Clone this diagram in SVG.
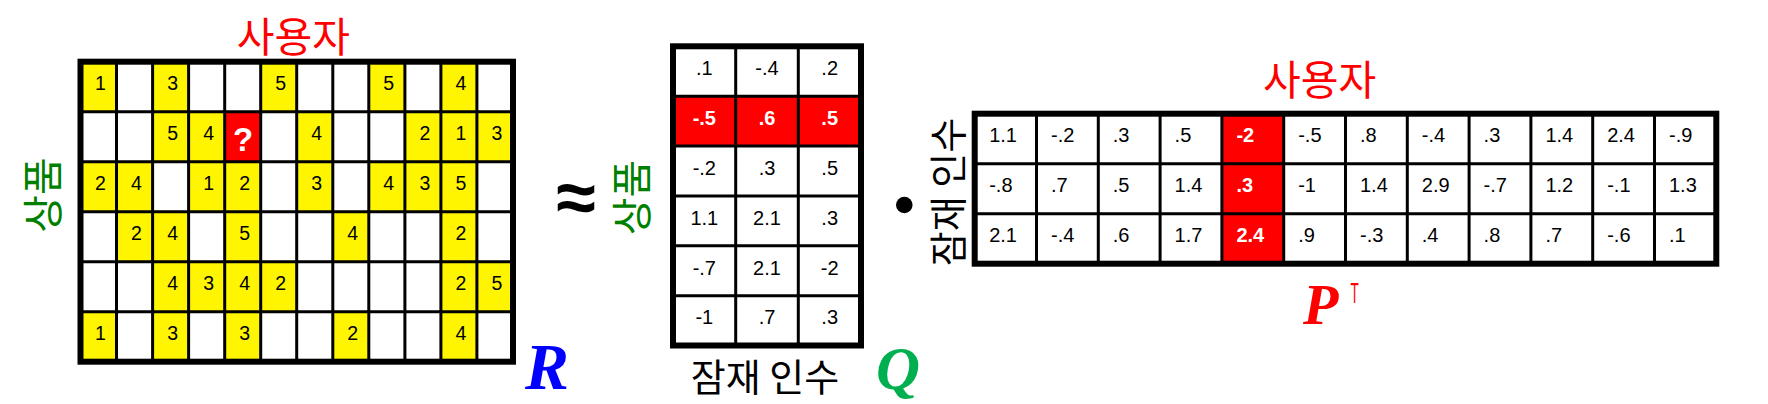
<svg xmlns="http://www.w3.org/2000/svg" width="1768" height="404" viewBox="0 0 1768 404">
<style>
.bg{fill:#ffffff}
.y{fill:#FFF500}
.r{fill:#FF0000}
.w{fill:#ffffff}
.outer{fill:none;stroke:#000;stroke-width:6}
.inner{stroke:#000;stroke-width:3}
.n{font-family:"Liberation Sans",Arial,sans-serif;font-size:19.5px;fill:#000;text-anchor:middle}
.nq{font-family:"Liberation Sans",Arial,sans-serif;font-size:20px;fill:#000;text-anchor:middle}
.np{font-family:"Liberation Sans",Arial,sans-serif;font-size:20px;fill:#000;text-anchor:start}
.bw{fill:#fff;font-weight:bold}
.kr{font-family:"Noto Sans CJK KR","Noto Sans",sans-serif}
.lbl-red{fill:#FF0000;font-size:41px;text-anchor:middle}
.lbl-green{fill:#008000;font-size:41px;text-anchor:middle}
.lbl-black{fill:#000;font-size:38px;text-anchor:middle}
.sym{font-family:"Liberation Serif","Times New Roman",serif;font-weight:bold;font-style:italic}
</style>
<rect class="bg" x="0" y="0" width="1768" height="404"/>

<g id="matrix-R">
  <g id="R-fills">
    <rect class="y" x="80.5" y="61.7" width="36" height="50"/>
    <rect class="y" x="152.6" y="61.7" width="36" height="50"/>
    <rect class="y" x="260.7" y="61.7" width="36" height="50"/>
    <rect class="y" x="368.8" y="61.7" width="36" height="50"/>
    <rect class="y" x="440.9" y="61.7" width="36" height="50"/>

    <rect class="y" x="152.6" y="111.7" width="72.1" height="50"/>
    <rect class="r" x="224.7" y="111.7" width="36" height="50"/>
    <rect class="y" x="296.7" y="111.7" width="36" height="50"/>
    <rect class="y" x="404.9" y="111.7" width="108.1" height="50"/>

    <rect class="y" x="80.5" y="161.7" width="72.1" height="50"/>
    <rect class="y" x="188.6" y="161.7" width="72.1" height="50"/>
    <rect class="y" x="296.7" y="161.7" width="36" height="50"/>
    <rect class="y" x="368.8" y="161.7" width="108.1" height="50"/>

    <rect class="y" x="116.5" y="211.7" width="72.1" height="50"/>
    <rect class="y" x="224.7" y="211.7" width="36" height="50"/>
    <rect class="y" x="332.8" y="211.7" width="36" height="50"/>
    <rect class="y" x="440.9" y="211.7" width="36" height="50"/>

    <rect class="y" x="152.6" y="261.7" width="144.1" height="50"/>
    <rect class="y" x="440.9" y="261.7" width="72.1" height="50"/>

    <rect class="y" x="80.5" y="311.7" width="36" height="50"/>
    <rect class="y" x="152.6" y="311.7" width="36" height="50"/>
    <rect class="y" x="224.7" y="311.7" width="36" height="50"/>
    <rect class="y" x="332.8" y="311.7" width="36" height="50"/>
    <rect class="y" x="440.9" y="311.7" width="36" height="50"/>
  </g>
  <path class="inner" d="M116.5 61.7V361.7M152.6 61.7V361.7M188.6 61.7V361.7M224.7 61.7V361.7M260.7 61.7V361.7M296.7 61.7V361.7M332.8 61.7V361.7M368.8 61.7V361.7M404.9 61.7V361.7M440.9 61.7V361.7M476.9 61.7V361.7M80.5 111.7H513M80.5 161.7H513M80.5 211.7H513M80.5 261.7H513M80.5 311.7H513"/>
  <rect class="outer" x="80.5" y="61.7" width="432.5" height="300"/>
  <g id="R-values">
    <text class="n" x="100.5" y="90">1</text><text class="n" x="172.6" y="90">3</text><text class="n" x="280.7" y="90">5</text><text class="n" x="388.8" y="90">5</text><text class="n" x="460.9" y="90">4</text>
    <text class="n" x="172.6" y="140">5</text><text class="n" x="208.6" y="140">4</text><text class="n" x="316.8" y="140">4</text><text class="n" x="424.9" y="140">2</text><text class="n" x="460.9" y="140">1</text><text class="n" x="497" y="140">3</text>
    <text class="n" x="100.5" y="190">2</text><text class="n" x="136.5" y="190">4</text><text class="n" x="208.6" y="190">1</text><text class="n" x="244.7" y="190">2</text><text class="n" x="316.8" y="190">3</text><text class="n" x="388.8" y="190">4</text><text class="n" x="424.9" y="190">3</text><text class="n" x="460.9" y="190">5</text>
    <text class="n" x="136.5" y="240">2</text><text class="n" x="172.6" y="240">4</text><text class="n" x="244.7" y="240">5</text><text class="n" x="352.8" y="240">4</text><text class="n" x="460.9" y="240">2</text>
    <text class="n" x="172.6" y="290">4</text><text class="n" x="208.6" y="290">3</text><text class="n" x="244.7" y="290">4</text><text class="n" x="280.7" y="290">2</text><text class="n" x="460.9" y="290">2</text><text class="n" x="497" y="290">5</text>
    <text class="n" x="100.5" y="340">1</text><text class="n" x="172.6" y="340">3</text><text class="n" x="244.7" y="340">3</text><text class="n" x="352.8" y="340">2</text><text class="n" x="460.9" y="340">4</text>
    <text class="n bw" x="243" y="150.5" style="font-size:33px">?</text>
  </g>
</g>

<g id="label-R-users"><text class="kr lbl-red" x="293.3" y="52">사용자</text></g>
<g id="label-R-items"><text class="kr lbl-green" transform="translate(40,195) rotate(-90)" x="0" y="0" dominant-baseline="central">상품</text></g>
<g id="symbol-R"><text class="sym" x="525" y="389" style="font-size:66px;fill:#0000FF">R</text></g>

<g id="approx"><text x="576" y="222" style="font-family:'Liberation Sans',Arial,sans-serif;font-weight:bold;font-size:72px;text-anchor:middle;fill:#000">≈</text></g>

<g id="matrix-Q">
  <rect class="r" x="673" y="96.2" width="188" height="49.9"/>
  <path class="inner" d="M735.7 46.3V345.5M798.3 46.3V345.5M673 96.2H861M673 146H861M673 195.9H861M673 245.8H861M673 295.7H861"/>
  <rect class="outer" x="673" y="46.3" width="188" height="299.2"/>
  <g id="Q-values">
    <text class="nq" x="704.3" y="75">.1</text><text class="nq" x="767" y="75">-.4</text><text class="nq" x="829.7" y="75">.2</text>
    <text class="nq bw" x="704.3" y="124.9">-.5</text><text class="nq bw" x="767" y="124.9">.6</text><text class="nq bw" x="829.7" y="124.9">.5</text>
    <text class="nq" x="704.3" y="174.7">-.2</text><text class="nq" x="767" y="174.7">.3</text><text class="nq" x="829.7" y="174.7">.5</text>
    <text class="nq" x="704.3" y="224.6">1.1</text><text class="nq" x="767" y="224.6">2.1</text><text class="nq" x="829.7" y="224.6">.3</text>
    <text class="nq" x="704.3" y="274.5">-.7</text><text class="nq" x="767" y="274.5">2.1</text><text class="nq" x="829.7" y="274.5">-2</text>
    <text class="nq" x="704.3" y="324.4">-1</text><text class="nq" x="767" y="324.4">.7</text><text class="nq" x="829.7" y="324.4">.3</text>
  </g>
</g>
<g id="label-Q-items"><text class="kr lbl-green" transform="translate(629.2,197.5) rotate(-90)" x="0" y="0" dominant-baseline="central">상품</text></g>
<g id="label-Q-factors"><text class="kr lbl-black" x="765" y="391">잠재 인수</text></g>
<g id="symbol-Q"><text class="sym" x="876" y="389" style="font-size:61px;fill:#00B050">Q</text></g>

<g id="dot"><circle cx="904.3" cy="205" r="8.3" fill="#000"/></g>

<g id="matrix-P">
  <rect class="r" x="1221.9" y="113.7" width="61.8" height="150"/>
  <path class="inner" d="M1036.5 113.7V263.7M1098.3 113.7V263.7M1160.1 113.7V263.7M1221.9 113.7V263.7M1283.7 113.7V263.7M1345.5 113.7V263.7M1407.3 113.7V263.7M1469.1 113.7V263.7M1530.9 113.7V263.7M1592.7 113.7V263.7M1654.5 113.7V263.7M974.7 163.7H1716.3M974.7 213.7H1716.3"/>
  <rect class="outer" x="974.7" y="113.7" width="741.6" height="150"/>
  <g id="P-values">
    <text class="np" x="989.2" y="141.7">1.1</text><text class="np" x="1051" y="141.7">-.2</text><text class="np" x="1112.8" y="141.7">.3</text><text class="np" x="1174.6" y="141.7">.5</text><text class="np bw" x="1236.4" y="141.7">-2</text><text class="np" x="1298.2" y="141.7">-.5</text><text class="np" x="1360" y="141.7">.8</text><text class="np" x="1421.8" y="141.7">-.4</text><text class="np" x="1483.6" y="141.7">.3</text><text class="np" x="1545.4" y="141.7">1.4</text><text class="np" x="1607.2" y="141.7">2.4</text><text class="np" x="1669" y="141.7">-.9</text>
    <text class="np" x="989.2" y="191.7">-.8</text><text class="np" x="1051" y="191.7">.7</text><text class="np" x="1112.8" y="191.7">.5</text><text class="np" x="1174.6" y="191.7">1.4</text><text class="np bw" x="1236.4" y="191.7">.3</text><text class="np" x="1298.2" y="191.7">-1</text><text class="np" x="1360" y="191.7">1.4</text><text class="np" x="1421.8" y="191.7">2.9</text><text class="np" x="1483.6" y="191.7">-.7</text><text class="np" x="1545.4" y="191.7">1.2</text><text class="np" x="1607.2" y="191.7">-.1</text><text class="np" x="1669" y="191.7">1.3</text>
    <text class="np" x="989.2" y="241.7">2.1</text><text class="np" x="1051" y="241.7">-.4</text><text class="np" x="1112.8" y="241.7">.6</text><text class="np" x="1174.6" y="241.7">1.7</text><text class="np bw" x="1236.4" y="241.7">2.4</text><text class="np" x="1298.2" y="241.7">.9</text><text class="np" x="1360" y="241.7">-.3</text><text class="np" x="1421.8" y="241.7">.4</text><text class="np" x="1483.6" y="241.7">.8</text><text class="np" x="1545.4" y="241.7">.7</text><text class="np" x="1607.2" y="241.7">-.6</text><text class="np" x="1669" y="241.7">.1</text>
  </g>
</g>
<g id="label-P-users"><text class="kr lbl-red" x="1319.7" y="95">사용자</text></g>
<g id="label-P-factors"><text class="kr lbl-black" transform="translate(945.8,192) rotate(-90)" x="0" y="0" dominant-baseline="central">잠재 인수</text></g>
<g id="symbol-PT">
  <text class="sym" x="1303" y="324" style="font-size:58px;fill:#FF0000">P</text>
  <text x="0" y="0" transform="translate(1354.5,303.3) scale(0.45,1)" style="font-family:'Liberation Sans',Arial,sans-serif;font-size:30px;fill:#FF0000;text-anchor:middle">T</text>
</g>
<g id="connectors"/>
</svg>
